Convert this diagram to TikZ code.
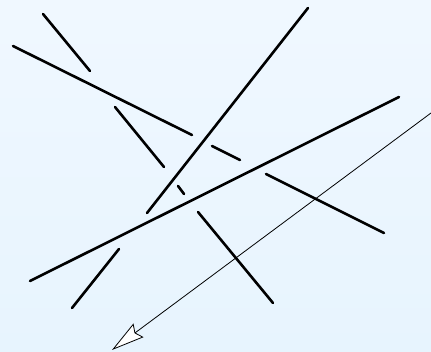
\documentclass[tikz,border=0pt]{standalone}
\usetikzlibrary{arrows.meta}
\definecolor{bgtop}{RGB}{240,248,255}
\definecolor{bgbot}{RGB}{231,244,254}
\tikzset{
  strand/.style={line width=2.6pt, line cap=round, black},
  thinarrow/.style={line width=0.8pt, black, -{Stealth[length=33pt,width=17pt,inset=4pt,fill=white,line width=0.8pt]}}
}
\begin{document}
\begin{tikzpicture}[x=1pt,y=-1pt]
\shade[top color=bgtop, bottom color=bgbot] (0,0) rectangle (431,352);
\useasboundingbox (0,0) rectangle (431,352);
\begin{scope}
\clip (0,0) rectangle (431,352);
% strand A
\coordinate (a1) at (43,14); \coordinate (a2) at (90,71);
\draw[strand] (a1) -- (a2);
% strand B (broken)
\coordinate (b1) at (13,46); \coordinate (b2) at (192,135);
\coordinate (b3) at (212,146); \coordinate (b4) at (240,160);
\coordinate (b5) at (266,174); \coordinate (b6) at (384,233);
\draw[strand] (b1) -- (b2);
\draw[strand] (b3) -- (b4);
\draw[strand] (b5) -- (b6);
% strand C (broken)
\coordinate (c1) at (115,107); \coordinate (c2) at (164,167);
\coordinate (c3) at (178,186); \coordinate (c4) at (184,194);
\coordinate (c5) at (198,212); \coordinate (c6) at (273,303);
\draw[strand] (c1) -- (c2);
\draw[strand] (c3) -- (c4);
\draw[strand] (c5) -- (c6);
% strand D
\coordinate (d1) at (308,8); \coordinate (d2) at (147,213);
\draw[strand] (d1) -- (d2);
% strand E
\coordinate (e1) at (30,281); \coordinate (e2) at (399,97);
\draw[strand] (e1) -- (e2);
% strand F
\coordinate (f1) at (119,249); \coordinate (f2) at (72,308);
\draw[strand] (f1) -- (f2);
% arrow
\coordinate (s) at (445,102.6); \coordinate (t) at (112,350);
\draw[thinarrow] (s) -- (t);
\end{scope}
\end{tikzpicture}
\end{document}
